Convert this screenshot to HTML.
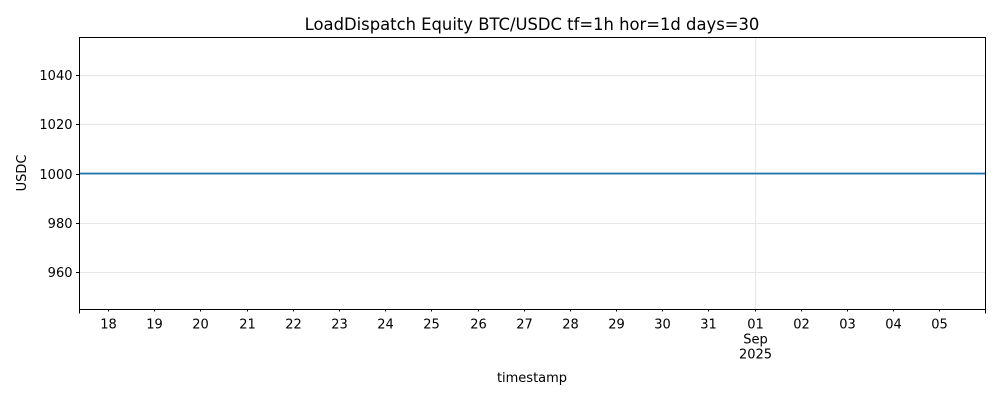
<!DOCTYPE html>
<html><head><meta charset="utf-8"><style>
html,body{margin:0;padding:0;background:#fff;width:1000px;height:400px;overflow:hidden}
svg text{font-family:"DejaVu Sans","Liberation Sans",sans-serif;fill:#000}
</style></head><body>
<svg id="chart" width="1000" height="400" xmlns="http://www.w3.org/2000/svg">
<rect width="1000" height="400" fill="#fff"/>
<text x="532" y="30" font-size="16.4" text-anchor="middle">LoadDispatch Equity BTC/USDC tf=1h hor=1d days=30</text>
<text transform="translate(26,173) rotate(-90)" font-size="13" text-anchor="middle">USDC</text>
<text x="532" y="382" font-size="13" text-anchor="middle">timestamp</text>
<g id="grid"></g><g id="axes"></g><g id="series"></g>
<rect x="79.5" y="37.5" width="906" height="272" fill="none" stroke="#000" stroke-width="1"/>
</svg>
<script>
const dayLabels=["18","19","20","21","22","23","24","25","26","27","28","29","30","31","01","02","03","04","05"];
const yTicks=[960,980,1000,1020,1040];
const equityValues=[1000,1000];
const equityDays=[-0.63,18.99];
const L=79.5,R=985.5,T=37.5,B=309.5;
const xMin=-0.63,xMax=18.99,yMin=945,yMax=1055;
const xs=d=>L+(d-xMin)/(xMax-xMin)*(R-L);
const ys=v=>B-(v-yMin)/(yMax-yMin)*(B-T);
const NS="http://www.w3.org/2000/svg";
const grid=document.getElementById('grid'),axes=document.getElementById('axes'),ser=document.getElementById('series');
function mk(tag,attrs,parent){const e=document.createElementNS(NS,tag);for(const k in attrs)e.setAttribute(k,attrs[k]);parent.appendChild(e);return e;}
yTicks.forEach(v=>{const y=Math.round(ys(v))+0.5;
 const g=mk('line',{x1:L,x2:R,y1:y,y2:y,stroke:'#e6e6e6','stroke-width':1},grid);
 
 
 mk('line',{x1:L-3.5,x2:L,y1:y,y2:y,stroke:'#000'},axes);
 const t=mk('text',{x:L-7,y:y+4.5,'font-size':13,'text-anchor':'end'},axes);t.textContent=v;
 
 
});
dayLabels.forEach((lab,i)=>{const x=Math.floor(xs(i))+0.5;
 mk('line',{x1:x,x2:x,y1:B,y2:B+2,stroke:'#000'},axes);
 const t=mk('text',{x:x,y:B+19,'font-size':13,'text-anchor':'middle'},axes);t.textContent=lab;
 
 
 if(lab==="01"){
  const g=mk('line',{x1:x,x2:x,y1:T,y2:B,stroke:'#e6e6e6'},grid);
  
  
  const a=mk('text',{x:x,y:B+34,'font-size':13,'text-anchor':'middle'},axes);a.textContent="Sep";
  
  
  const b=mk('text',{x:x,y:B+49,'font-size':13,'text-anchor':'middle'},axes);b.textContent="2025";
  
  
 }
});
[L,R].forEach(x=>{mk('line',{x1:x,x2:x,y1:B,y2:B+4,stroke:'#000'},axes);});
const pts=equityDays.map((d,i)=>xs(d)+','+ys(equityValues[i])).join(' ');
const line=mk('polyline',{points:pts,fill:'none',stroke:'#1f77b4','stroke-width':1.8},ser);


</script>
</body></html>
